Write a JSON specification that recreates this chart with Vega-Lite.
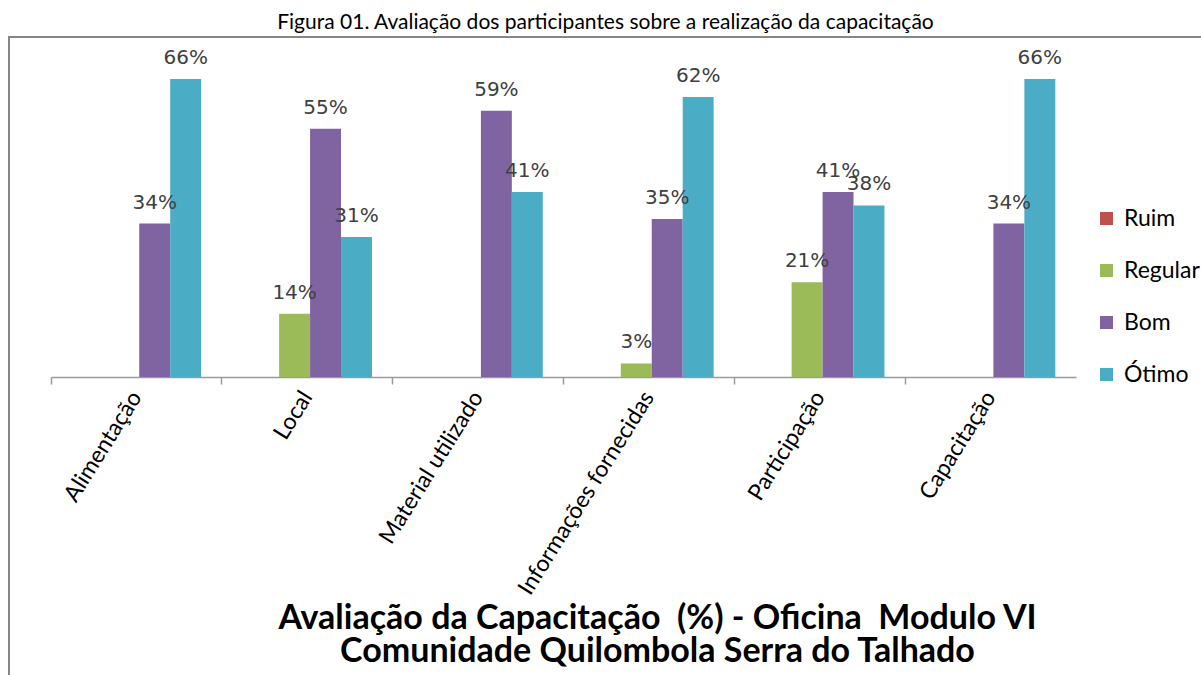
{
  "$schema": "https://vega.github.io/schema/vega-lite/v6.json",
  "width": 1193,
  "height": 640,
  "autosize": {"type": "none"},
  "padding": {"left": 9, "top": 37, "right": 0, "bottom": 0},
  "background": "white",
  "title": {
    "text": "Figura 01. Avaliação dos participantes sobre a realização da capacitação",
    "font": "Lato",
    "fontSize": 21,
    "fontWeight": "normal",
    "color": "black",
    "anchor": "middle",
    "offset": 4
  },
  "config": {
    "view": {"stroke": "#868686", "strokeWidth": 2},
    "axis": {"grid": false}
  },
  "data": {
    "values": [
      {"item": "Alimentação", "nivel": "Ruim", "valor": 0},
      {"item": "Alimentação", "nivel": "Regular", "valor": 0},
      {"item": "Alimentação", "nivel": "Bom", "valor": 0.34},
      {"item": "Alimentação", "nivel": "Ótimo", "valor": 0.66},
      {"item": "Local", "nivel": "Ruim", "valor": 0},
      {"item": "Local", "nivel": "Regular", "valor": 0.14},
      {"item": "Local", "nivel": "Bom", "valor": 0.55},
      {"item": "Local", "nivel": "Ótimo", "valor": 0.31},
      {"item": "Material utilizado", "nivel": "Ruim", "valor": 0},
      {"item": "Material utilizado", "nivel": "Regular", "valor": 0},
      {"item": "Material utilizado", "nivel": "Bom", "valor": 0.59},
      {"item": "Material utilizado", "nivel": "Ótimo", "valor": 0.41},
      {"item": "Informações fornecidas", "nivel": "Ruim", "valor": 0},
      {"item": "Informações fornecidas", "nivel": "Regular", "valor": 0.03},
      {"item": "Informações fornecidas", "nivel": "Bom", "valor": 0.35},
      {"item": "Informações fornecidas", "nivel": "Ótimo", "valor": 0.62},
      {"item": "Participação", "nivel": "Ruim", "valor": 0},
      {"item": "Participação", "nivel": "Regular", "valor": 0.21},
      {"item": "Participação", "nivel": "Bom", "valor": 0.41},
      {"item": "Participação", "nivel": "Ótimo", "valor": 0.38},
      {"item": "Capacitação", "nivel": "Ruim", "valor": 0},
      {"item": "Capacitação", "nivel": "Regular", "valor": 0},
      {"item": "Capacitação", "nivel": "Bom", "valor": 0.34},
      {"item": "Capacitação", "nivel": "Ótimo", "valor": 0.66}
    ]
  },
  "encoding": {
    "x": {
      "field": "item",
      "type": "nominal",
      "scale": {
        "type": "band",
        "domain": ["Alimentação", "Local", "Material utilizado", "Informações fornecidas", "Participação", "Capacitação"],
        "range": [42, 1067],
        "paddingInner": 0,
        "paddingOuter": 0
      },
      "axis": {
        "title": ["Avaliação da Capacitação \u00a0(%) - Oficina \u00a0Modulo VI", "Comunidade Quilombola Serra do Talhado"],
        "offset": -300,
        "labelAngle": -58,
        "labelFont": "Lato",
        "labelFontSize": 23,
        "labelColor": "black",
        "labelPadding": 9,
        "labelLimit": 400,
        "ticks": true,
        "bandPosition": 0,
        "tickSize": 7,
        "tickColor": "#9a9a9a",
        "tickWidth": 1.5,
        "domainColor": "#9a9a9a",
        "domainWidth": 1.5,
        "titleFont": "Lato",
        "titleFontSize": 34,
        "titleFontWeight": "bold",
        "titleColor": "black",
        "titleX": 648,
        "titleY": 251,
        "titleAlign": "center",
        "titleBaseline": "alphabetic",
        "titleLineHeight": 33
      }
    },
    "xOffset": {
      "field": "nivel",
      "type": "nominal",
      "scale": {"domain": ["Ruim", "Regular", "Bom", "Ótimo"], "paddingInner": 0, "paddingOuter": 0.76, "align": 0.56}
    },
    "y": {
      "field": "valor",
      "type": "quantitative",
      "scale": {"domain": [0, 0.7], "range": [340, 24]},
      "axis": null
    }
  },
  "layer": [
    {
      "mark": {"type": "bar"},
      "encoding": {
        "color": {
          "field": "nivel",
          "type": "nominal",
          "scale": {
            "domain": ["Ruim", "Regular", "Bom", "Ótimo"],
            "range": ["#C0504D", "#9BBB59", "#8064A2", "#4BACC6"]
          },
          "legend": {
            "title": null,
            "orient": "none",
            "legendX": 1086,
            "legendY": 170,
            "padding": 0,
            "symbolType": "square",
            "symbolSize": 169,
            "symbolStrokeWidth": 0,
            "labelFont": "Lato",
            "labelFontSize": 23,
            "labelColor": "black",
            "labelOffset": 6,
            "rowPadding": 28
          }
        }
      }
    },
    {
      "transform": [{"filter": "datum.valor > 0"}],
      "mark": {
        "type": "text",
        "dy": -15,
        "baseline": "alphabetic",
        "align": "center",
        "font": "DejaVu Sans",
        "fontSize": 20,
        "color": "#404040"
      },
      "encoding": {
        "text": {"field": "valor", "type": "quantitative", "format": ".0%"}
      }
    }
  ]
}
